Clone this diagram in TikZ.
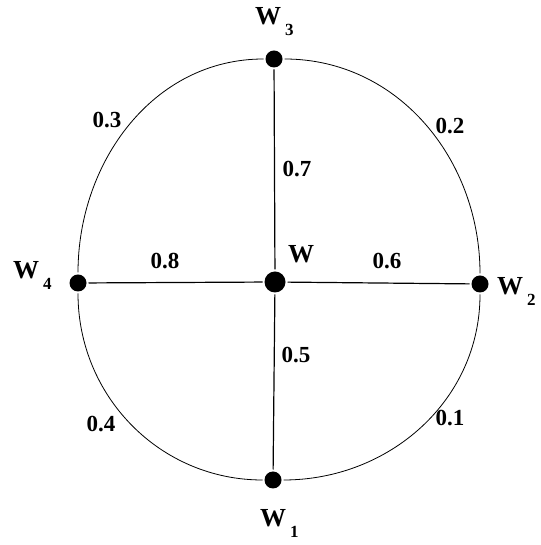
\documentclass[tikz,border=0pt]{standalone}
\usepackage{fontspec}
\setmainfont{Liberation Serif}
\newcommand{\wsub}[1]{\textbf{W}\hspace{4pt}\raisebox{-11pt}{\fontsize{17}{17}\selectfont\textbf{#1}}}

\begin{document}
\begin{tikzpicture}[x=1pt, y=1pt,
  dot/.style={circle, fill, inner sep=0pt, minimum size=17pt, outer sep=2pt},
  hub/.style={dot, minimum size=21pt},
  wlabel/.style={anchor=base west, inner sep=0pt, font=\fontsize{26}{26}\selectfont},
  weight/.style={inner sep=0pt, font=\fontsize{23}{23}\selectfont\bfseries}]
  \useasboundingbox (0,0) rectangle (540,545);
  \node[hub] (w) at (275,263) {};
  \node[dot] (w1) at (273,65) {};
  \node[dot] (w2) at (480,261) {};
  \node[dot] (w3) at (274,486) {};
  \node[dot] (w4) at (78,262) {};

  % the ring
  \draw[line width=0.8pt] (w3) to[out=0, in=90] (w2);
  \draw[line width=0.8pt] (w2) to[out=-90, in=0] (w1);
  \draw[line width=0.8pt] (w1) to[out=180, in=-90] (w4);
  \draw[line width=0.8pt] (w4) to[out=90, in=180] (w3);
  % the spokes
  \draw[line width=1.2pt] (w) -- (w3);
  \draw[line width=1.2pt] (w) -- (w1);
  \draw[line width=1.2pt] (w) -- (w4);
  \draw[line width=1.2pt] (w) -- (w2);

  \node[wlabel] (lw) at (288,282) {\textbf{W}};
  \node[wlabel] (lw1) at (260,18) {\wsub{1}};
  \node[wlabel] (lw2) at (497,250) {\wsub{2}};
  \node[wlabel] (lw3) at (255,520) {\wsub{3}};
  \node[wlabel] (lw4) at (13,266) {\wsub{4}};

  \node[weight] (p1) at (450,127) {0.1};
  \node[weight] (p2) at (450,419) {0.2};
  \node[weight] (p3) at (107,425) {0.3};
  \node[weight] (p4) at (101,121) {0.4};
  \node[weight] (p5) at (296,190) {0.5};
  \node[weight] (p6) at (387,284) {0.6};
  \node[weight] (p7) at (297,376) {0.7};
  \node[weight] (p8) at (165,284) {0.8};
\end{tikzpicture}
\end{document}
